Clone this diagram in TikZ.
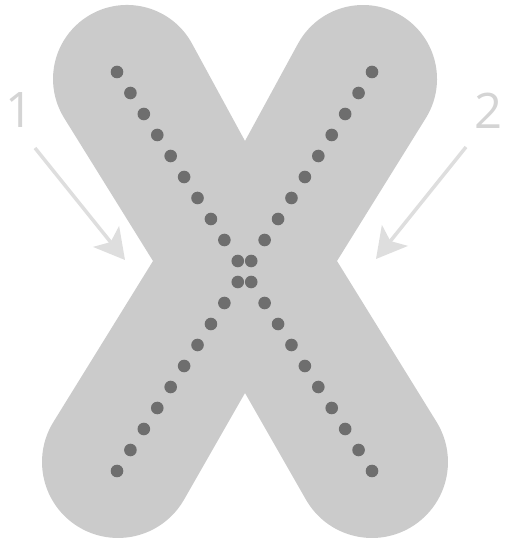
\documentclass[tikz,border=0pt]{standalone}
\usepackage{fontspec}
\setmainfont{Open Sans}
\usetikzlibrary{calc,arrows.meta}
\definecolor{xfill}{RGB}{203,203,203}
\definecolor{dotc}{RGB}{110,110,110}
\definecolor{arrc}{RGB}{222,222,222}
\definecolor{numc}{RGB}{212,212,212}
\begin{document}
\begin{tikzpicture}[x=1pt,y=1pt,
  numlabel/.style={text=numc, inner sep=0pt, font=\fontsize{49}{49}\selectfont},
  hint/.style={draw=arrc, line width=3.5pt, -{Stealth[length=30pt,width=33pt,inset=7pt]}},
  pip/.style={fill=dotc}]
\useasboundingbox (0,0) rectangle (505,544);
% the X shape
\fill[xfill] (245,403) -- (192,500.4)
  arc[start angle=28.56,end angle=211.87,radius=74] -- (153,283) -- (53.4,122)
  arc[start angle=148.25,end angle=330.24,radius=76] -- (245,151) -- (306,44.3)
  arc[start angle=209.76,end angle=391.75,radius=76] -- (337,283) -- (425.85,425.95)
  arc[start angle=-31.87,end angle=151.44,radius=74] -- cycle;
% dotted stroke paths
\coordinate (p1s) at (117,472);
\coordinate (p1e) at (372,73);
\coordinate (p2s) at (372,472);
\coordinate (p2e) at (117,73);
\foreach \i in {0,...,19} {
  \fill[pip] ($(p1s)!\i/19!(p1e)$) circle[radius=6.3];
  \fill[pip] ($(p2s)!\i/19!(p2e)$) circle[radius=6.3];
}
% labels and arrows
\node[numlabel] (n1) at (19.5,433.5) {1};
\node[numlabel] (n2) at (488.5,433.5) {2};
\coordinate (a1s) at (35,396);
\coordinate (a1e) at (125,284);
\coordinate (a2s) at (466,397);
\coordinate (a2e) at (376,285);
\draw[hint] (a1s) -- (a1e);
\draw[hint] (a2s) -- (a2e);
\end{tikzpicture}
\end{document}
